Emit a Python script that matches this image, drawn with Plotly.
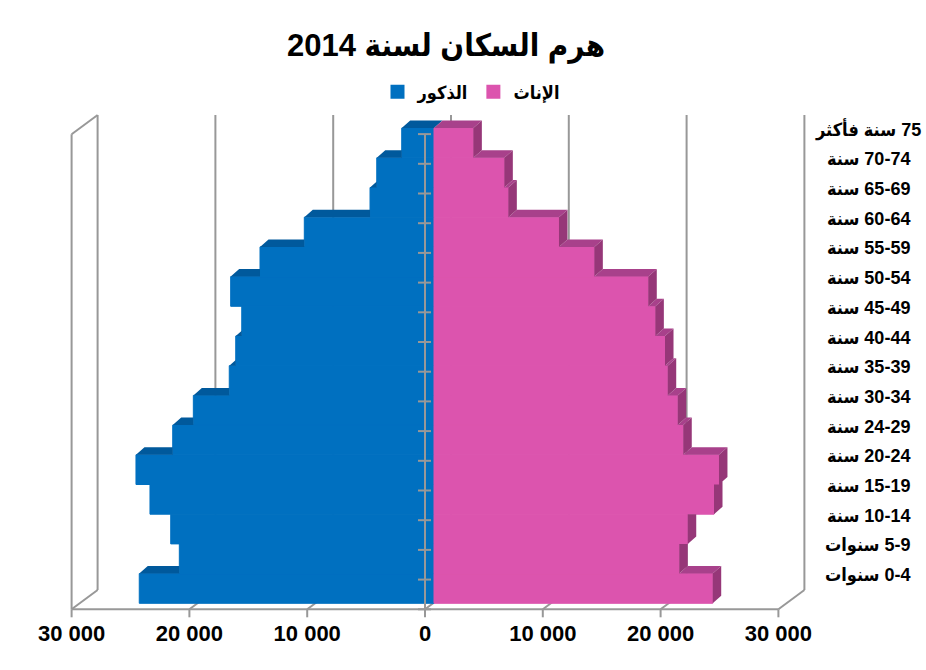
"""Population pyramid 2014 — Excel-style 3D bars rebuilt with Plotly."""
import plotly.graph_objects as go

# ---- data -----------------------------------------------------------------
AGE_GROUPS = [
    "0-4 سنوات", "5-9 سنوات", "10-14 سنة", "15-19 سنة", "20-24 سنة",
    "24-29 سنة", "30-34 سنة", "35-39 سنة", "40-44 سنة", "45-49 سنة",
    "50-54 سنة", "55-59 سنة", "60-64 سنة", "65-69 سنة", "70-74 سنة",
    "75 سنة فأكثر",
]
MALES = [25020, 21620, 22350, 24110, 25300, 22180, 20430, 17380,
         16830, 16320, 17260, 14770, 11010, 5430, 4860, 2740]
FEMALES = [23660, 20820, 21540, 23770, 24190, 21160, 20690, 19840,
           19610, 18790, 18190, 13610, 10610, 6310, 5970, 3340]

X_TICKS = [-30000, -20000, -10000, 0, 10000, 20000, 30000]
X_TICK_TEXT = ["30 000", "20 000", "10 000", "0", "10 000", "20 000", "30 000"]

TITLE = "هرم السكان لسنة 2014"
MALE_NAME = "الذكور"
FEMALE_NAME = "الإناث"

# ---- style ----------------------------------------------------------------
RLE, PDF = "\u202b", "\u202c"   # force right-to-left reading order
FONT = "Liberation Sans, DejaVu Sans Condensed, DejaVu Sans, sans-serif"
BLUE, BLUE_TOP = "#0070C0", "#00599C"
PINK, PINK_TOP, PINK_SIDE = "#DC54AE", "#A8418B", "#963778"
GRID = "#989898"

W, H = 926, 670
L, R, T, B = 60, 815, 110, 618       # plot area in px
ZERO_PX, PX_PER_10K = 434, 117.8     # bar front plane
ROW0_PX, ROW_PX = 588.45, 29.7

DX = 10000 / PX_PER_10K              # data units per px, x
DY = 1 / ROW_PX                      # data units per px, y

BAR_DX, BAR_DY = 8.5 * DX, 7.5 * DY          # bar depth
FRONT_DX, FRONT_DY = -9 * DX, -6 * DY        # front plane vs bar front
BACK_DX, BACK_DY = 17 * DX, 13.3 * DY        # back plane vs bar front
TOP_BACK = (ROW0_PX - 115) * DY

Y_FLOOR_F = -0.5 + FRONT_DY
Y_FLOOR_B = -0.5 + BACK_DY
Y_TOP_F = TOP_BACK - (BACK_DY - FRONT_DY)

n = len(AGE_GROUPS)
idx = list(range(n))


def rtl(s):
    return RLE + s + PDF


def male_top(i):
    a, y0 = -MALES[i], i + 0.5
    if i == n - 1:
        return [(a, y0), (0, y0), (BAR_DX, y0 + BAR_DY), (a + BAR_DX, y0 + BAR_DY)]
    c = -MALES[i + 1]
    if c <= a:
        return []
    if c >= a + BAR_DX:
        return [(a, y0), (c, y0), (c, y0 + BAR_DY), (a + BAR_DX, y0 + BAR_DY)]
    t = (c - a) / BAR_DX
    return [(a, y0), (c, y0), (c, y0 + BAR_DY * t)]


def female_top(i):
    f, y0 = FEMALES[i], i + 0.5
    s = 0 if i == n - 1 else FEMALES[i + 1]
    if s >= f:
        return []
    return [(s, y0), (f, y0), (f + BAR_DX, y0 + BAR_DY), (s + BAR_DX, y0 + BAR_DY)]


def female_side(i):
    x0, yb, yt = FEMALES[i], i - 0.5, i + 0.5
    full = [(x0, yb), (x0, yt), (x0 + BAR_DX, yt + BAR_DY), (x0 + BAR_DX, yb + BAR_DY)]
    if i == n - 1 or FEMALES[i + 1] <= x0:
        return full
    fn = FEMALES[i + 1]
    if fn >= x0 + BAR_DX:
        return [(x0, yb), (x0, yt), (x0 + BAR_DX, yt), (x0 + BAR_DX, yb + BAR_DY)]
    t = (fn - x0) / BAR_DX
    return [(x0, yb), (x0, yt), (fn, yt), (fn, yt + BAR_DY * t),
            (x0 + BAR_DX, yt + BAR_DY), (x0 + BAR_DX, yb + BAR_DY)]


def faces_trace(polys, colour):
    xs, ys = [], []
    for p in polys:
        if not p:
            continue
        xs += [q[0] for q in p] + [p[0][0], None]
        ys += [q[1] for q in p] + [p[0][1], None]
    return go.Scatter(x=xs, y=ys, mode="lines", fill="toself", fillcolor=colour,
                      line={"width": 0, "color": colour}, hoverinfo="skip",
                      showlegend=False)


fig = go.Figure()
# a hairline in the fill colour hides the seams between stacked rows
fig.add_trace(go.Bar(
    y=idx, x=[-m for m in MALES], orientation="h", width=1, name=MALE_NAME,
    marker={"color": BLUE, "line": {"width": 1, "color": BLUE}}, showlegend=False,
    customdata=MALES, hovertemplate="%{customdata}<extra></extra>",
))
fig.add_trace(go.Bar(
    y=idx, x=FEMALES, orientation="h", width=1, name=FEMALE_NAME,
    marker={"color": PINK, "line": {"width": 1, "color": PINK}}, showlegend=False,
    hovertemplate="%{x}<extra></extra>",
))
fig.add_trace(faces_trace([male_top(i) for i in idx], BLUE_TOP))
fig.add_trace(faces_trace([female_top(i) for i in idx], PINK_TOP))
fig.add_trace(faces_trace([female_side(i) for i in idx], PINK_SIDE))

# legend keys: square swatches like the spreadsheet legend
for name, colour in ((MALE_NAME, BLUE), (FEMALE_NAME, PINK)):
    fig.add_trace(go.Scatter(x=[None], y=[None], mode="markers", name=name,
                             marker={"symbol": "square", "size": 14, "color": colour}))

# ---- walls, floor and grid ------------------------------------------------
line = {"color": GRID, "width": 2}
shapes = []


def seg(x0, y0, x1, y1, layer="below"):
    shapes.append({"type": "line", "x0": x0, "y0": y0, "x1": x1, "y1": y1,
                   "xref": "x", "yref": "y", "line": line, "layer": layer})


for v in X_TICKS:
    seg(v + BACK_DX, Y_FLOOR_B, v + BACK_DX, TOP_BACK)          # back gridline
    seg(v + FRONT_DX, Y_FLOOR_F, v + BACK_DX, Y_FLOOR_B)        # floor depth line
    seg(v + FRONT_DX, Y_FLOOR_F, v + FRONT_DX, Y_FLOOR_F - 8 * DY)  # tick mark
xl = X_TICKS[0]
seg(xl + FRONT_DX, Y_FLOOR_F, xl + FRONT_DX, Y_TOP_F)          # left wall front
seg(xl + FRONT_DX, Y_TOP_F, xl + BACK_DX, TOP_BACK)            # left wall top
seg(X_TICKS[0] + FRONT_DX, Y_FLOOR_F, X_TICKS[-1] + FRONT_DX, Y_FLOOR_F)  # floor

# category axis on the front plane, drawn over the bars
seg(FRONT_DX, Y_FLOOR_F, FRONT_DX, Y_TOP_F, layer="above")
for k in range(n + 1):
    yk = k - 0.5 + FRONT_DY
    seg(FRONT_DX - 7 * DX, yk, FRONT_DX + 6 * DX, yk, layer="above")

annotations = [
    {"text": rtl(g), "x": (868 - L) / (R - L), "xref": "paper",
     "y": i + BACK_DY, "yref": "y", "xanchor": "center", "yanchor": "middle",
     "showarrow": False, "font": {"size": 18, "color": "black", "family": FONT}}
    for i, g in enumerate(AGE_GROUPS)
]

fig.update_layout(
    template="none",
    width=W, height=H,
    margin={"l": L, "r": W - R, "t": T, "b": H - B, "autoexpand": False},
    paper_bgcolor="white", plot_bgcolor="white",
    barmode="overlay",
    font={"family": FONT, "color": "black", "weight": "bold"},
    title={"text": rtl(TITLE), "x": 446 / W, "xanchor": "center",
           "y": 1 - 45 / H, "yanchor": "middle",
           "font": {"size": 31, "family": FONT, "weight": "bold"}},
    legend={"orientation": "h", "x": (471 - L) / (R - L), "xanchor": "center",
            "y": (B - 92) / (B - T), "yanchor": "middle",
            "font": {"size": 18, "weight": "bold"}, "itemwidth": 30,
            "bgcolor": "rgba(0,0,0,0)"},
    xaxis={"range": [(L - ZERO_PX) * DX, (R - ZERO_PX) * DX],
           "tickvals": [v + FRONT_DX for v in X_TICKS], "ticktext": X_TICK_TEXT,
           "tickfont": {"size": 22, "weight": "bold"}, "automargin": False,
           "showgrid": False, "zeroline": False, "showline": False, "ticks": "",
           "fixedrange": True},
    yaxis={"range": [(ROW0_PX - B) * DY, (ROW0_PX - T) * DY], "visible": False,
           "automargin": False, "fixedrange": True},
    shapes=shapes,
    annotations=annotations,
)

# the page's default 8px body margin would offset the whole chart
fig.write_html("out.html", config={"displayModeBar": False},
               post_script="document.body.style.margin = '0px';")
